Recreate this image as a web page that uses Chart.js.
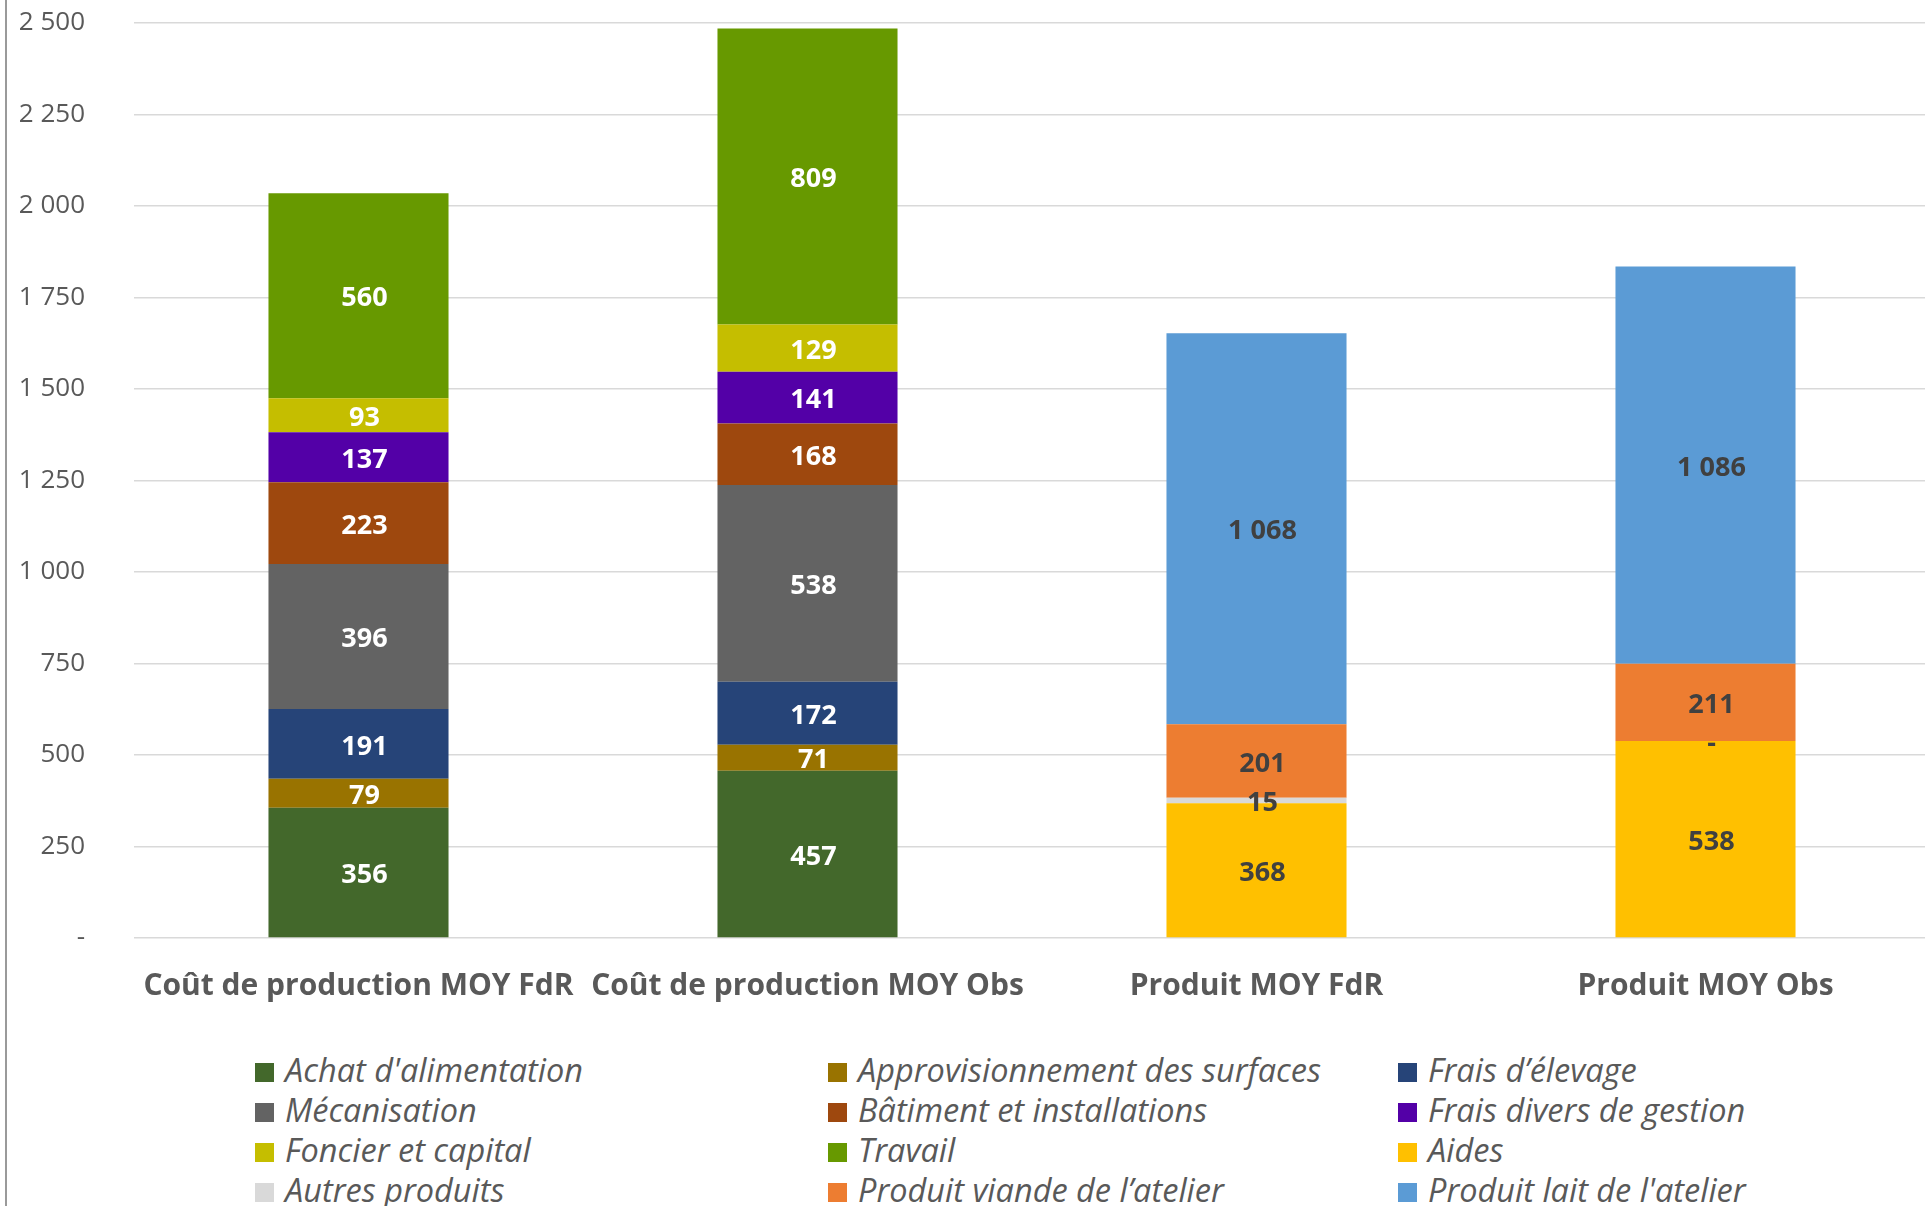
<!DOCTYPE html>
<html>
<head>
<meta charset="utf-8">
<script src="https://cdn.jsdelivr.net/npm/chart.js@4/dist/chart.umd.min.js"></script>
<style>
  html, body { margin: 0; padding: 0; background: #fff; overflow: hidden; }
  #wrap { position: relative; width: 1925px; height: 1206px; overflow: hidden; }
  #chart { position: absolute; left: 0; top: 0; }
  #frame { position: absolute; left: 5px; top: 0; width: 2px; height: 1206px; background: #9a9a9a; }
  .leg { position: absolute; height: 40px; line-height: 40px; font-family: "Open Sans", sans-serif;
         font-style: italic; font-size: 32.5px; color: #595959; white-space: nowrap; }
  .leg span.box { position: absolute; left: 0; top: 11px; width: 19px; height: 19px; }
  .leg span.txt { position: absolute; left: 30px; top: -2px; }
</style>
</head>
<body>
<div id="wrap">
  <canvas id="chart" width="1935" height="1010"></canvas>
  <div id="frame"></div>
  <div id="legend"></div>
</div>
<script>
var categories = ['Coût de production MOY FdR', 'Coût de production MOY Obs', 'Produit MOY FdR', 'Produit MOY Obs'];

var seriesNames = ["Achat d'alimentation", 'Approvisionnement des surfaces', 'Frais d’élevage',
  'Mécanisation', 'Bâtiment et installations', 'Frais divers de gestion',
  'Foncier et capital', 'Travail', 'Aides',
  'Autres produits', 'Produit viande de l’atelier', "Produit lait de l'atelier"];

// one array per series, one value per category (null = not part of that bar)
var achat        = [356, 457, null, null];
var appro        = [79, 71, null, null];
var fraisElevage = [191, 172, null, null];
var mecanisation = [396, 538, null, null];
var batiment     = [223, 168, null, null];
var fraisDivers  = [137, 141, null, null];
var foncier      = [93, 129, null, null];
var travail      = [560, 809, null, null];
var aides        = [null, null, 368, 538];
var autres       = [null, null, 15, 0];
var viande       = [null, null, 201, 211];
var lait         = [null, null, 1068, 1086];

var yTicks = [0, 250, 500, 750, 1000, 1250, 1500, 1750, 2000, 2250, 2500];

var colors = ['#43682b', '#997300', '#264478', '#636363', '#9e480e', '#5300a7',
  '#c5be00', '#679900', '#ffc000', '#d9d9d9', '#ed7d31', '#5b9bd5'];
var values = [achat, appro, fraisElevage, mecanisation, batiment, fraisDivers,
  foncier, travail, aides, autres, viande, lait];
var labelColors = ['#fff', '#fff', '#fff', '#fff', '#fff', '#fff', '#fff', '#fff',
  '#404040', '#404040', '#404040', '#404040'];

function fmt(v) {
  if (v === 0) return '-';
  return String(v).replace(/\B(?=(\d{3})+(?!\d))/g, ' ');
}

var datasets = [];
for (var i = 0; i < seriesNames.length; i++) {
  datasets.push({
    label: seriesNames[i],
    data: values[i],
    backgroundColor: colors[i],
    borderWidth: 0,
    barPercentage: 0.401,
    categoryPercentage: 1.0
  });
}

// draws value in the middle of each segment
var segmentLabels = {
  id: 'segmentLabels',
  afterDatasetsDraw: function(chart) {
    var ctx = chart.ctx;
    ctx.save();
    ctx.font = 'bold 27px "Open Sans"';
    ctx.textAlign = 'center';
    ctx.textBaseline = 'middle';
    chart.data.datasets.forEach(function(ds, di) {
      var meta = chart.getDatasetMeta(di);
      meta.data.forEach(function(bar, j) {
        var v = ds.data[j];
        if (v === null || v === undefined) return;
        ctx.fillStyle = labelColors[di];
        ctx.fillText(fmt(v), bar.x + 6, (bar.y + bar.base) / 2 + 3);
      });
    });
    ctx.restore();
  }
};

var ctx = document.getElementById('chart').getContext('2d');
var chart = new Chart(ctx, {
  type: 'bar',
  data: { labels: categories, datasets: datasets },
  options: {
    responsive: false,
    animation: false,
    devicePixelRatio: 1,
    layout: { padding: { top: 23, right: 5, left: 0, bottom: 0 } },
    plugins: { legend: { display: false }, tooltip: { enabled: false } },
    scales: {
      x: {
        stacked: true,
        grid: { display: false },
        border: { display: false },
        ticks: { color: '#595959', font: { family: 'Open Sans', size: 30, weight: 'bold' }, padding: 22, maxRotation: 0, autoSkip: false },
        afterFit: function(s) { s.height = 72; }
      },
      y: {
        stacked: true,
        min: 0,
        max: 2500,
        afterBuildTicks: function(s) { s.ticks = yTicks.map(function(v) { return { value: v }; }); },
        grid: { color: '#d9d9d9', lineWidth: 1.5, drawTicks: false },
        border: { display: false },
        ticks: { color: '#595959', font: { family: 'Open Sans', size: 26 }, padding: 49,
          callback: function(v) { return fmt(v); } },
        afterFit: function(s) { s.width = 134; s.paddingTop = 0; s.paddingBottom = 0; }
      }
    }
  },
  plugins: [segmentLabels]
});

// legend in three columns, same order as the datasets
var legendCols = [255, 828, 1398];
var legendRows = [1072, 1112, 1152, 1192];
var legend = document.getElementById('legend');
chart.data.datasets.forEach(function(ds, i) {
  var div = document.createElement('div');
  div.className = 'leg';
  div.style.left = legendCols[i % 3] + 'px';
  div.style.top = (legendRows[Math.floor(i / 3)] - 20) + 'px';
  var box = document.createElement('span');
  box.className = 'box';
  box.style.background = ds.backgroundColor;
  var txt = document.createElement('span');
  txt.className = 'txt';
  txt.textContent = ds.label;
  div.appendChild(box);
  div.appendChild(txt);
  legend.appendChild(div);
});
</script>
</body>
</html>
